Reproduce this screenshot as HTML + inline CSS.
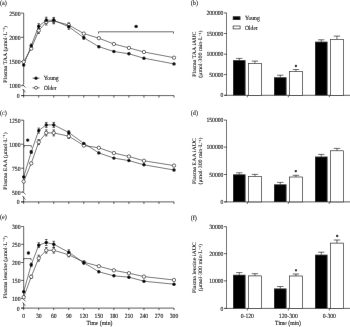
<!DOCTYPE html>
<html><head><meta charset="utf-8"><style>
html,body{margin:0;padding:0;background:#fff;width:350px;height:327px;overflow:hidden}
svg{display:block}
text{font-family:"Liberation Serif",serif;fill:#000;stroke:#000;stroke-width:0.1px;text-rendering:geometricPrecision}
</style></head><body>
<svg width="350" height="327" viewBox="0 0 350 327">
<defs><filter id="bl" filterUnits="userSpaceOnUse" x="0" y="0" width="350" height="327"><feConvolveMatrix order="3" kernelMatrix="0 1 0 1 24 1 0 1 0" divisor="28" edgeMode="duplicate"/></filter></defs>
<g filter="url(#bl)">
<rect width="350" height="327" fill="#fff"/>
<line x1="23.7" y1="13.1" x2="23.7" y2="84.6" stroke="#000" stroke-width="0.65"/>
<line x1="23.7" y1="89.3" x2="23.7" y2="95.6" stroke="#000" stroke-width="0.65"/>
<line x1="22.5" y1="84.3" x2="25.5" y2="87.6" stroke="#000" stroke-width="0.6"/>
<line x1="22.5" y1="89.0" x2="25.5" y2="92.3" stroke="#000" stroke-width="0.6"/>
<line x1="21.1" y1="13.1" x2="23.7" y2="13.1" stroke="#000" stroke-width="0.65"/>
<text x="0" y="0" text-anchor="end" font-size="6.3" transform="translate(20.50 15.50) scale(0.9 1)">2500</text>
<line x1="21.1" y1="37.3" x2="23.7" y2="37.3" stroke="#000" stroke-width="0.65"/>
<text x="0" y="0" text-anchor="end" font-size="6.3" transform="translate(20.50 39.70) scale(0.9 1)">2000</text>
<line x1="21.1" y1="61.5" x2="23.7" y2="61.5" stroke="#000" stroke-width="0.65"/>
<text x="0" y="0" text-anchor="end" font-size="6.3" transform="translate(20.50 63.90) scale(0.9 1)">1500</text>
<line x1="21.1" y1="85.7" x2="23.7" y2="85.7" stroke="#000" stroke-width="0.65"/>
<text x="0" y="0" text-anchor="end" font-size="6.3" transform="translate(20.50 88.10) scale(0.9 1)">1000</text>
<line x1="21.1" y1="95.6" x2="23.7" y2="95.6" stroke="#000" stroke-width="0.65"/>
<text x="0" y="0" text-anchor="end" font-size="6.3" transform="translate(19.50 98.00) scale(0.9 1)">0</text>
<line x1="21.1" y1="95.6" x2="174" y2="95.6" stroke="#000" stroke-width="0.65"/>
<line x1="23.7" y1="95.6" x2="23.7" y2="97.6" stroke="#000" stroke-width="0.65"/>
<line x1="38.73" y1="95.6" x2="38.73" y2="97.6" stroke="#000" stroke-width="0.65"/>
<line x1="53.76" y1="95.6" x2="53.76" y2="97.6" stroke="#000" stroke-width="0.65"/>
<line x1="68.79" y1="95.6" x2="68.79" y2="97.6" stroke="#000" stroke-width="0.65"/>
<line x1="83.82" y1="95.6" x2="83.82" y2="97.6" stroke="#000" stroke-width="0.65"/>
<line x1="98.85" y1="95.6" x2="98.85" y2="97.6" stroke="#000" stroke-width="0.65"/>
<line x1="113.88" y1="95.6" x2="113.88" y2="97.6" stroke="#000" stroke-width="0.65"/>
<line x1="128.91" y1="95.6" x2="128.91" y2="97.6" stroke="#000" stroke-width="0.65"/>
<line x1="143.94" y1="95.6" x2="143.94" y2="97.6" stroke="#000" stroke-width="0.65"/>
<line x1="158.97" y1="95.6" x2="158.97" y2="97.6" stroke="#000" stroke-width="0.65"/>
<line x1="174" y1="95.6" x2="174" y2="97.6" stroke="#000" stroke-width="0.65"/>
<text x="0" y="0" text-anchor="middle" font-size="5.9" transform="translate(6.70 54.35) scale(0.9 1) rotate(-90)">Plasma TAA (&#956;mol&#183;L<tspan dy="-1.6" font-size="3.6">&#8722;1</tspan><tspan dy="1.6">)</tspan></text>
<text x="0" y="0" text-anchor="start" font-size="6.8" transform="translate(-0.10 4.50) scale(0.9 1)">(a)</text>
<line x1="31.21" y1="44.0" x2="31.21" y2="47.6" stroke="#000" stroke-width="0.6"/>
<line x1="29.91" y1="44.0" x2="32.52" y2="44.0" stroke="#000" stroke-width="0.6"/>
<line x1="29.91" y1="47.6" x2="32.52" y2="47.6" stroke="#000" stroke-width="0.6"/>
<line x1="38.73" y1="23.7" x2="38.73" y2="28.7" stroke="#000" stroke-width="0.6"/>
<line x1="37.43" y1="23.7" x2="40.03" y2="23.7" stroke="#000" stroke-width="0.6"/>
<line x1="37.43" y1="28.7" x2="40.03" y2="28.7" stroke="#000" stroke-width="0.6"/>
<line x1="38.73" y1="27.8" x2="38.73" y2="33.4" stroke="#000" stroke-width="0.6"/>
<line x1="37.43" y1="27.8" x2="40.03" y2="27.8" stroke="#000" stroke-width="0.6"/>
<line x1="37.43" y1="33.4" x2="40.03" y2="33.4" stroke="#000" stroke-width="0.6"/>
<line x1="46.25" y1="17.2" x2="46.25" y2="23.2" stroke="#000" stroke-width="0.6"/>
<line x1="44.95" y1="17.2" x2="47.55" y2="17.2" stroke="#000" stroke-width="0.6"/>
<line x1="44.95" y1="23.2" x2="47.55" y2="23.2" stroke="#000" stroke-width="0.6"/>
<line x1="46.25" y1="19.0" x2="46.25" y2="25.0" stroke="#000" stroke-width="0.6"/>
<line x1="44.95" y1="19.0" x2="47.55" y2="19.0" stroke="#000" stroke-width="0.6"/>
<line x1="44.95" y1="25.0" x2="47.55" y2="25.0" stroke="#000" stroke-width="0.6"/>
<line x1="53.76" y1="17.4" x2="53.76" y2="23.0" stroke="#000" stroke-width="0.6"/>
<line x1="52.46" y1="17.4" x2="55.06" y2="17.4" stroke="#000" stroke-width="0.6"/>
<line x1="52.46" y1="23.0" x2="55.06" y2="23.0" stroke="#000" stroke-width="0.6"/>
<line x1="53.76" y1="18.2" x2="53.76" y2="23.8" stroke="#000" stroke-width="0.6"/>
<line x1="52.46" y1="18.2" x2="55.06" y2="18.2" stroke="#000" stroke-width="0.6"/>
<line x1="52.46" y1="23.8" x2="55.06" y2="23.8" stroke="#000" stroke-width="0.6"/>
<line x1="68.79" y1="24.3" x2="68.79" y2="29.3" stroke="#000" stroke-width="0.6"/>
<line x1="67.49" y1="24.3" x2="70.09" y2="24.3" stroke="#000" stroke-width="0.6"/>
<line x1="67.49" y1="29.3" x2="70.09" y2="29.3" stroke="#000" stroke-width="0.6"/>
<line x1="68.79" y1="22.8" x2="68.79" y2="27.2" stroke="#000" stroke-width="0.6"/>
<line x1="67.49" y1="22.8" x2="70.09" y2="22.8" stroke="#000" stroke-width="0.6"/>
<line x1="67.49" y1="27.2" x2="70.09" y2="27.2" stroke="#000" stroke-width="0.6"/>
<line x1="83.82" y1="36.2" x2="83.82" y2="39.2" stroke="#000" stroke-width="0.6"/>
<line x1="82.52" y1="36.2" x2="85.12" y2="36.2" stroke="#000" stroke-width="0.6"/>
<line x1="82.52" y1="39.2" x2="85.12" y2="39.2" stroke="#000" stroke-width="0.6"/>
<polyline points="23.7,61.8 31.21,48.6 38.73,30.6 46.25,22.0 53.76,21 68.79,25.0 83.82,33.6 98.85,38.2 113.88,44 128.91,47.9 143.94,52 174.0,57.7" fill="none" stroke="#000" stroke-width="0.55"/>
<polyline points="23.7,65 31.21,45.8 38.73,26.2 46.25,20.2 53.76,20.2 68.79,26.8 83.82,37.7 98.85,46.7 113.88,51.5 128.91,53.8 143.94,58.2 174.0,63.9" fill="none" stroke="#000" stroke-width="0.55"/>
<circle cx="23.7" cy="61.8" r="1.7" fill="#fff" stroke="#000" stroke-width="0.6"/>
<circle cx="31.21" cy="48.6" r="1.7" fill="#fff" stroke="#000" stroke-width="0.6"/>
<circle cx="38.73" cy="30.6" r="1.7" fill="#fff" stroke="#000" stroke-width="0.6"/>
<circle cx="46.25" cy="22.0" r="1.7" fill="#fff" stroke="#000" stroke-width="0.6"/>
<circle cx="53.76" cy="21" r="1.7" fill="#fff" stroke="#000" stroke-width="0.6"/>
<circle cx="68.79" cy="25.0" r="1.7" fill="#fff" stroke="#000" stroke-width="0.6"/>
<circle cx="83.82" cy="33.6" r="1.7" fill="#fff" stroke="#000" stroke-width="0.6"/>
<circle cx="98.85" cy="38.2" r="1.7" fill="#fff" stroke="#000" stroke-width="0.6"/>
<circle cx="113.88" cy="44" r="1.7" fill="#fff" stroke="#000" stroke-width="0.6"/>
<circle cx="128.91" cy="47.9" r="1.7" fill="#fff" stroke="#000" stroke-width="0.6"/>
<circle cx="143.94" cy="52" r="1.7" fill="#fff" stroke="#000" stroke-width="0.6"/>
<circle cx="174.0" cy="57.7" r="1.7" fill="#fff" stroke="#000" stroke-width="0.6"/>
<circle cx="23.7" cy="65" r="1.7" fill="#000"/>
<circle cx="31.21" cy="45.8" r="1.7" fill="#000"/>
<circle cx="38.73" cy="26.2" r="1.7" fill="#000"/>
<circle cx="46.25" cy="20.2" r="1.7" fill="#000"/>
<circle cx="53.76" cy="20.2" r="1.7" fill="#000"/>
<circle cx="68.79" cy="26.8" r="1.7" fill="#000"/>
<circle cx="83.82" cy="37.7" r="1.7" fill="#000"/>
<circle cx="98.85" cy="46.7" r="1.7" fill="#000"/>
<circle cx="113.88" cy="51.5" r="1.7" fill="#000"/>
<circle cx="128.91" cy="53.8" r="1.7" fill="#000"/>
<circle cx="143.94" cy="58.2" r="1.7" fill="#000"/>
<circle cx="174.0" cy="63.9" r="1.7" fill="#000"/>
<polyline points="98.5,33.6 98.5,31.8 173.5,31.8 173.5,33.6" fill="none" stroke="#000" stroke-width="0.6"/>
<circle cx="136.1" cy="26.4" r="1.7" fill="#000"/>
<line x1="32.5" y1="78.2" x2="39.5" y2="78.2" stroke="#000" stroke-width="0.6"/>
<circle cx="36" cy="78.2" r="1.6" fill="#000"/>
<text x="0" y="0" text-anchor="start" font-size="6.3" transform="translate(43.80 80.10) scale(0.9 1)">Young</text>
<line x1="32.5" y1="87.8" x2="39.5" y2="87.8" stroke="#000" stroke-width="0.6"/>
<circle cx="36" cy="87.8" r="1.5" fill="#fff" stroke="#000" stroke-width="0.6"/>
<text x="0" y="0" text-anchor="start" font-size="6.3" transform="translate(43.80 89.70) scale(0.9 1)">Older</text>
<line x1="23.7" y1="120.2" x2="23.7" y2="191.5" stroke="#000" stroke-width="0.65"/>
<line x1="23.7" y1="196.5" x2="23.7" y2="201.9" stroke="#000" stroke-width="0.65"/>
<line x1="22.5" y1="191.2" x2="25.5" y2="194.5" stroke="#000" stroke-width="0.6"/>
<line x1="22.5" y1="196.2" x2="25.5" y2="199.5" stroke="#000" stroke-width="0.6"/>
<line x1="21.1" y1="120.2" x2="23.7" y2="120.2" stroke="#000" stroke-width="0.65"/>
<text x="0" y="0" text-anchor="end" font-size="6.3" transform="translate(20.50 122.60) scale(0.9 1)">1250</text>
<line x1="21.1" y1="144.2" x2="23.7" y2="144.2" stroke="#000" stroke-width="0.65"/>
<text x="0" y="0" text-anchor="end" font-size="6.3" transform="translate(20.50 146.60) scale(0.9 1)">1000</text>
<line x1="21.1" y1="168.2" x2="23.7" y2="168.2" stroke="#000" stroke-width="0.65"/>
<text x="0" y="0" text-anchor="end" font-size="6.3" transform="translate(20.50 170.60) scale(0.9 1)">750</text>
<line x1="21.1" y1="192.2" x2="23.7" y2="192.2" stroke="#000" stroke-width="0.65"/>
<text x="0" y="0" text-anchor="end" font-size="6.3" transform="translate(20.50 194.60) scale(0.9 1)">500</text>
<line x1="21.1" y1="201.9" x2="23.7" y2="201.9" stroke="#000" stroke-width="0.65"/>
<text x="0" y="0" text-anchor="end" font-size="6.3" transform="translate(19.50 204.30) scale(0.9 1)">0</text>
<line x1="21.1" y1="201.9" x2="174" y2="201.9" stroke="#000" stroke-width="0.65"/>
<line x1="23.7" y1="201.9" x2="23.7" y2="203.9" stroke="#000" stroke-width="0.65"/>
<line x1="38.73" y1="201.9" x2="38.73" y2="203.9" stroke="#000" stroke-width="0.65"/>
<line x1="53.76" y1="201.9" x2="53.76" y2="203.9" stroke="#000" stroke-width="0.65"/>
<line x1="68.79" y1="201.9" x2="68.79" y2="203.9" stroke="#000" stroke-width="0.65"/>
<line x1="83.82" y1="201.9" x2="83.82" y2="203.9" stroke="#000" stroke-width="0.65"/>
<line x1="98.85" y1="201.9" x2="98.85" y2="203.9" stroke="#000" stroke-width="0.65"/>
<line x1="113.88" y1="201.9" x2="113.88" y2="203.9" stroke="#000" stroke-width="0.65"/>
<line x1="128.91" y1="201.9" x2="128.91" y2="203.9" stroke="#000" stroke-width="0.65"/>
<line x1="143.94" y1="201.9" x2="143.94" y2="203.9" stroke="#000" stroke-width="0.65"/>
<line x1="158.97" y1="201.9" x2="158.97" y2="203.9" stroke="#000" stroke-width="0.65"/>
<line x1="174" y1="201.9" x2="174" y2="203.9" stroke="#000" stroke-width="0.65"/>
<text x="0" y="0" text-anchor="middle" font-size="5.9" transform="translate(6.70 161.05) scale(0.9 1) rotate(-90)">Plasma EAA (&#956;mol&#183;L<tspan dy="-1.6" font-size="3.6">&#8722;1</tspan><tspan dy="1.6">)</tspan></text>
<text x="0" y="0" text-anchor="start" font-size="6.8" transform="translate(-0.10 114.90) scale(0.9 1)">(c)</text>
<line x1="31.21" y1="150.5" x2="31.21" y2="153.5" stroke="#000" stroke-width="0.6"/>
<line x1="29.91" y1="150.5" x2="32.52" y2="150.5" stroke="#000" stroke-width="0.6"/>
<line x1="29.91" y1="153.5" x2="32.52" y2="153.5" stroke="#000" stroke-width="0.6"/>
<line x1="38.73" y1="128.1" x2="38.73" y2="133.1" stroke="#000" stroke-width="0.6"/>
<line x1="37.43" y1="128.1" x2="40.03" y2="128.1" stroke="#000" stroke-width="0.6"/>
<line x1="37.43" y1="133.1" x2="40.03" y2="133.1" stroke="#000" stroke-width="0.6"/>
<line x1="38.73" y1="139.6" x2="38.73" y2="144.6" stroke="#000" stroke-width="0.6"/>
<line x1="37.43" y1="139.6" x2="40.03" y2="139.6" stroke="#000" stroke-width="0.6"/>
<line x1="37.43" y1="144.6" x2="40.03" y2="144.6" stroke="#000" stroke-width="0.6"/>
<line x1="46.25" y1="122.4" x2="46.25" y2="127.4" stroke="#000" stroke-width="0.6"/>
<line x1="44.95" y1="122.4" x2="47.55" y2="122.4" stroke="#000" stroke-width="0.6"/>
<line x1="44.95" y1="127.4" x2="47.55" y2="127.4" stroke="#000" stroke-width="0.6"/>
<line x1="46.25" y1="129.9" x2="46.25" y2="135.9" stroke="#000" stroke-width="0.6"/>
<line x1="44.95" y1="129.9" x2="47.55" y2="129.9" stroke="#000" stroke-width="0.6"/>
<line x1="44.95" y1="135.9" x2="47.55" y2="135.9" stroke="#000" stroke-width="0.6"/>
<line x1="53.76" y1="122.4" x2="53.76" y2="127.4" stroke="#000" stroke-width="0.6"/>
<line x1="52.46" y1="122.4" x2="55.06" y2="122.4" stroke="#000" stroke-width="0.6"/>
<line x1="52.46" y1="127.4" x2="55.06" y2="127.4" stroke="#000" stroke-width="0.6"/>
<line x1="53.76" y1="129.9" x2="53.76" y2="135.9" stroke="#000" stroke-width="0.6"/>
<line x1="52.46" y1="129.9" x2="55.06" y2="129.9" stroke="#000" stroke-width="0.6"/>
<line x1="52.46" y1="135.9" x2="55.06" y2="135.9" stroke="#000" stroke-width="0.6"/>
<line x1="68.79" y1="130.7" x2="68.79" y2="134.3" stroke="#000" stroke-width="0.6"/>
<line x1="67.49" y1="130.7" x2="70.09" y2="130.7" stroke="#000" stroke-width="0.6"/>
<line x1="67.49" y1="134.3" x2="70.09" y2="134.3" stroke="#000" stroke-width="0.6"/>
<line x1="68.79" y1="133.9" x2="68.79" y2="138.5" stroke="#000" stroke-width="0.6"/>
<line x1="67.49" y1="133.9" x2="70.09" y2="133.9" stroke="#000" stroke-width="0.6"/>
<line x1="67.49" y1="138.5" x2="70.09" y2="138.5" stroke="#000" stroke-width="0.6"/>
<polyline points="23.7,181.5 31.21,163.4 38.73,142.1 46.25,132.9 53.76,132.9 68.79,136.2 83.82,145.5 98.85,147.8 113.88,153.0 128.91,156.5 143.94,160.8 174.0,165.6" fill="none" stroke="#000" stroke-width="0.55"/>
<polyline points="23.7,176.9 31.21,152 38.73,130.6 46.25,124.9 53.76,124.9 68.79,132.5 83.82,143.4 98.85,152.9 113.88,158.1 128.91,160.6 143.94,164.8 174.0,170.0" fill="none" stroke="#000" stroke-width="0.55"/>
<circle cx="23.7" cy="181.5" r="1.7" fill="#fff" stroke="#000" stroke-width="0.6"/>
<circle cx="31.21" cy="163.4" r="1.7" fill="#fff" stroke="#000" stroke-width="0.6"/>
<circle cx="38.73" cy="142.1" r="1.7" fill="#fff" stroke="#000" stroke-width="0.6"/>
<circle cx="46.25" cy="132.9" r="1.7" fill="#fff" stroke="#000" stroke-width="0.6"/>
<circle cx="53.76" cy="132.9" r="1.7" fill="#fff" stroke="#000" stroke-width="0.6"/>
<circle cx="68.79" cy="136.2" r="1.7" fill="#fff" stroke="#000" stroke-width="0.6"/>
<circle cx="83.82" cy="145.5" r="1.7" fill="#fff" stroke="#000" stroke-width="0.6"/>
<circle cx="98.85" cy="147.8" r="1.7" fill="#fff" stroke="#000" stroke-width="0.6"/>
<circle cx="113.88" cy="153.0" r="1.7" fill="#fff" stroke="#000" stroke-width="0.6"/>
<circle cx="128.91" cy="156.5" r="1.7" fill="#fff" stroke="#000" stroke-width="0.6"/>
<circle cx="143.94" cy="160.8" r="1.7" fill="#fff" stroke="#000" stroke-width="0.6"/>
<circle cx="174.0" cy="165.6" r="1.7" fill="#fff" stroke="#000" stroke-width="0.6"/>
<circle cx="23.7" cy="176.9" r="1.7" fill="#000"/>
<circle cx="31.21" cy="152" r="1.7" fill="#000"/>
<circle cx="38.73" cy="130.6" r="1.7" fill="#000"/>
<circle cx="46.25" cy="124.9" r="1.7" fill="#000"/>
<circle cx="53.76" cy="124.9" r="1.7" fill="#000"/>
<circle cx="68.79" cy="132.5" r="1.7" fill="#000"/>
<circle cx="83.82" cy="143.4" r="1.7" fill="#000"/>
<circle cx="98.85" cy="152.9" r="1.7" fill="#000"/>
<circle cx="113.88" cy="158.1" r="1.7" fill="#000"/>
<circle cx="128.91" cy="160.6" r="1.7" fill="#000"/>
<circle cx="143.94" cy="164.8" r="1.7" fill="#000"/>
<circle cx="174.0" cy="170.0" r="1.7" fill="#000"/>
<polyline points="24,147.4 24,145.6 31.3,145.6 31.3,147.4" fill="none" stroke="#000" stroke-width="0.6"/>
<circle cx="27.7" cy="140.1" r="1.7" fill="#000"/>
<line x1="23.7" y1="226.5" x2="23.7" y2="298.3" stroke="#000" stroke-width="0.65"/>
<line x1="23.7" y1="302.8" x2="23.7" y2="308.1" stroke="#000" stroke-width="0.65"/>
<line x1="22.5" y1="298.0" x2="25.5" y2="301.3" stroke="#000" stroke-width="0.6"/>
<line x1="22.5" y1="302.5" x2="25.5" y2="305.8" stroke="#000" stroke-width="0.6"/>
<line x1="21.1" y1="226.5" x2="23.7" y2="226.5" stroke="#000" stroke-width="0.65"/>
<text x="0" y="0" text-anchor="end" font-size="6.3" transform="translate(20.50 228.90) scale(0.9 1)">300</text>
<line x1="21.1" y1="244.3" x2="23.7" y2="244.3" stroke="#000" stroke-width="0.65"/>
<text x="0" y="0" text-anchor="end" font-size="6.3" transform="translate(20.50 246.70) scale(0.9 1)">250</text>
<line x1="21.1" y1="262.5" x2="23.7" y2="262.5" stroke="#000" stroke-width="0.65"/>
<text x="0" y="0" text-anchor="end" font-size="6.3" transform="translate(20.50 264.90) scale(0.9 1)">200</text>
<line x1="21.1" y1="280.4" x2="23.7" y2="280.4" stroke="#000" stroke-width="0.65"/>
<text x="0" y="0" text-anchor="end" font-size="6.3" transform="translate(20.50 282.80) scale(0.9 1)">150</text>
<line x1="21.1" y1="298.6" x2="23.7" y2="298.6" stroke="#000" stroke-width="0.65"/>
<text x="0" y="0" text-anchor="end" font-size="6.3" transform="translate(20.50 301.00) scale(0.9 1)">100</text>
<line x1="21.1" y1="308.1" x2="23.7" y2="308.1" stroke="#000" stroke-width="0.65"/>
<text x="0" y="0" text-anchor="end" font-size="6.3" transform="translate(19.50 310.50) scale(0.9 1)">0</text>
<line x1="21.1" y1="308.1" x2="174" y2="308.1" stroke="#000" stroke-width="0.65"/>
<line x1="23.7" y1="308.1" x2="23.7" y2="310.1" stroke="#000" stroke-width="0.65"/>
<text x="0" y="0" text-anchor="middle" font-size="6.3" transform="translate(23.70 317.50) scale(0.9 1)">0</text>
<line x1="38.73" y1="308.1" x2="38.73" y2="310.1" stroke="#000" stroke-width="0.65"/>
<text x="0" y="0" text-anchor="middle" font-size="6.3" transform="translate(38.73 317.50) scale(0.9 1)">30</text>
<line x1="53.76" y1="308.1" x2="53.76" y2="310.1" stroke="#000" stroke-width="0.65"/>
<text x="0" y="0" text-anchor="middle" font-size="6.3" transform="translate(53.76 317.50) scale(0.9 1)">60</text>
<line x1="68.79" y1="308.1" x2="68.79" y2="310.1" stroke="#000" stroke-width="0.65"/>
<text x="0" y="0" text-anchor="middle" font-size="6.3" transform="translate(68.79 317.50) scale(0.9 1)">90</text>
<line x1="83.82" y1="308.1" x2="83.82" y2="310.1" stroke="#000" stroke-width="0.65"/>
<text x="0" y="0" text-anchor="middle" font-size="6.3" transform="translate(83.82 317.50) scale(0.9 1)">120</text>
<line x1="98.85" y1="308.1" x2="98.85" y2="310.1" stroke="#000" stroke-width="0.65"/>
<text x="0" y="0" text-anchor="middle" font-size="6.3" transform="translate(98.85 317.50) scale(0.9 1)">150</text>
<line x1="113.88" y1="308.1" x2="113.88" y2="310.1" stroke="#000" stroke-width="0.65"/>
<text x="0" y="0" text-anchor="middle" font-size="6.3" transform="translate(113.88 317.50) scale(0.9 1)">180</text>
<line x1="128.91" y1="308.1" x2="128.91" y2="310.1" stroke="#000" stroke-width="0.65"/>
<text x="0" y="0" text-anchor="middle" font-size="6.3" transform="translate(128.91 317.50) scale(0.9 1)">210</text>
<line x1="143.94" y1="308.1" x2="143.94" y2="310.1" stroke="#000" stroke-width="0.65"/>
<text x="0" y="0" text-anchor="middle" font-size="6.3" transform="translate(143.94 317.50) scale(0.9 1)">240</text>
<line x1="158.97" y1="308.1" x2="158.97" y2="310.1" stroke="#000" stroke-width="0.65"/>
<text x="0" y="0" text-anchor="middle" font-size="6.3" transform="translate(158.97 317.50) scale(0.9 1)">270</text>
<line x1="174" y1="308.1" x2="174" y2="310.1" stroke="#000" stroke-width="0.65"/>
<text x="0" y="0" text-anchor="middle" font-size="6.3" transform="translate(174.00 317.50) scale(0.9 1)">300</text>
<text x="0" y="0" text-anchor="middle" font-size="5.9" transform="translate(6.70 267.30) scale(0.9 1) rotate(-90)">Plasma leucine (&#956;mol&#183;L<tspan dy="-1.6" font-size="3.6">&#8722;1</tspan><tspan dy="1.6">)</tspan></text>
<text x="0" y="0" text-anchor="start" font-size="6.8" transform="translate(-0.10 219.40) scale(0.9 1)">(e)</text>
<line x1="31.21" y1="263.0" x2="31.21" y2="266.6" stroke="#000" stroke-width="0.6"/>
<line x1="29.91" y1="263.0" x2="32.52" y2="263.0" stroke="#000" stroke-width="0.6"/>
<line x1="29.91" y1="266.6" x2="32.52" y2="266.6" stroke="#000" stroke-width="0.6"/>
<line x1="31.21" y1="275.3" x2="31.21" y2="278.3" stroke="#000" stroke-width="0.6"/>
<line x1="29.91" y1="275.3" x2="32.52" y2="275.3" stroke="#000" stroke-width="0.6"/>
<line x1="29.91" y1="278.3" x2="32.52" y2="278.3" stroke="#000" stroke-width="0.6"/>
<line x1="38.73" y1="242.8" x2="38.73" y2="247.6" stroke="#000" stroke-width="0.6"/>
<line x1="37.43" y1="242.8" x2="40.03" y2="242.8" stroke="#000" stroke-width="0.6"/>
<line x1="37.43" y1="247.6" x2="40.03" y2="247.6" stroke="#000" stroke-width="0.6"/>
<line x1="38.73" y1="255.2" x2="38.73" y2="261.2" stroke="#000" stroke-width="0.6"/>
<line x1="37.43" y1="255.2" x2="40.03" y2="255.2" stroke="#000" stroke-width="0.6"/>
<line x1="37.43" y1="261.2" x2="40.03" y2="261.2" stroke="#000" stroke-width="0.6"/>
<line x1="46.25" y1="239.5" x2="46.25" y2="245.5" stroke="#000" stroke-width="0.6"/>
<line x1="44.95" y1="239.5" x2="47.55" y2="239.5" stroke="#000" stroke-width="0.6"/>
<line x1="44.95" y1="245.5" x2="47.55" y2="245.5" stroke="#000" stroke-width="0.6"/>
<line x1="46.25" y1="247.5" x2="46.25" y2="253.1" stroke="#000" stroke-width="0.6"/>
<line x1="44.95" y1="247.5" x2="47.55" y2="247.5" stroke="#000" stroke-width="0.6"/>
<line x1="44.95" y1="253.1" x2="47.55" y2="253.1" stroke="#000" stroke-width="0.6"/>
<line x1="53.76" y1="241.3" x2="53.76" y2="247.3" stroke="#000" stroke-width="0.6"/>
<line x1="52.46" y1="241.3" x2="55.06" y2="241.3" stroke="#000" stroke-width="0.6"/>
<line x1="52.46" y1="247.3" x2="55.06" y2="247.3" stroke="#000" stroke-width="0.6"/>
<line x1="53.76" y1="247.5" x2="53.76" y2="253.1" stroke="#000" stroke-width="0.6"/>
<line x1="52.46" y1="247.5" x2="55.06" y2="247.5" stroke="#000" stroke-width="0.6"/>
<line x1="52.46" y1="253.1" x2="55.06" y2="253.1" stroke="#000" stroke-width="0.6"/>
<line x1="68.79" y1="249.8" x2="68.79" y2="254.8" stroke="#000" stroke-width="0.6"/>
<line x1="67.49" y1="249.8" x2="70.09" y2="249.8" stroke="#000" stroke-width="0.6"/>
<line x1="67.49" y1="254.8" x2="70.09" y2="254.8" stroke="#000" stroke-width="0.6"/>
<line x1="68.79" y1="252.8" x2="68.79" y2="256.8" stroke="#000" stroke-width="0.6"/>
<line x1="67.49" y1="252.8" x2="70.09" y2="252.8" stroke="#000" stroke-width="0.6"/>
<line x1="67.49" y1="256.8" x2="70.09" y2="256.8" stroke="#000" stroke-width="0.6"/>
<line x1="83.82" y1="261.2" x2="83.82" y2="264.2" stroke="#000" stroke-width="0.6"/>
<line x1="82.52" y1="261.2" x2="85.12" y2="261.2" stroke="#000" stroke-width="0.6"/>
<line x1="82.52" y1="264.2" x2="85.12" y2="264.2" stroke="#000" stroke-width="0.6"/>
<polyline points="23.7,297.2 31.21,276.8 38.73,258.2 46.25,250.3 53.76,250.3 68.79,254.8 83.82,262.2 98.85,266.2 113.88,270.3 128.91,273.2 143.94,276.6 174.0,280.0" fill="none" stroke="#000" stroke-width="0.55"/>
<polyline points="23.7,291.7 31.21,264.8 38.73,245.2 46.25,242.5 53.76,244.3 68.79,252.3 83.82,262.7 98.85,271.8 113.88,275.8 128.91,277.2 143.94,281.2 174.0,284.2" fill="none" stroke="#000" stroke-width="0.55"/>
<circle cx="23.7" cy="297.2" r="1.7" fill="#fff" stroke="#000" stroke-width="0.6"/>
<circle cx="31.21" cy="276.8" r="1.7" fill="#fff" stroke="#000" stroke-width="0.6"/>
<circle cx="38.73" cy="258.2" r="1.7" fill="#fff" stroke="#000" stroke-width="0.6"/>
<circle cx="46.25" cy="250.3" r="1.7" fill="#fff" stroke="#000" stroke-width="0.6"/>
<circle cx="53.76" cy="250.3" r="1.7" fill="#fff" stroke="#000" stroke-width="0.6"/>
<circle cx="68.79" cy="254.8" r="1.7" fill="#fff" stroke="#000" stroke-width="0.6"/>
<circle cx="83.82" cy="262.2" r="1.7" fill="#fff" stroke="#000" stroke-width="0.6"/>
<circle cx="98.85" cy="266.2" r="1.7" fill="#fff" stroke="#000" stroke-width="0.6"/>
<circle cx="113.88" cy="270.3" r="1.7" fill="#fff" stroke="#000" stroke-width="0.6"/>
<circle cx="128.91" cy="273.2" r="1.7" fill="#fff" stroke="#000" stroke-width="0.6"/>
<circle cx="143.94" cy="276.6" r="1.7" fill="#fff" stroke="#000" stroke-width="0.6"/>
<circle cx="174.0" cy="280.0" r="1.7" fill="#fff" stroke="#000" stroke-width="0.6"/>
<circle cx="23.7" cy="291.7" r="1.7" fill="#000"/>
<circle cx="31.21" cy="264.8" r="1.7" fill="#000"/>
<circle cx="38.73" cy="245.2" r="1.7" fill="#000"/>
<circle cx="46.25" cy="242.5" r="1.7" fill="#000"/>
<circle cx="53.76" cy="244.3" r="1.7" fill="#000"/>
<circle cx="68.79" cy="252.3" r="1.7" fill="#000"/>
<circle cx="83.82" cy="262.7" r="1.7" fill="#000"/>
<circle cx="98.85" cy="271.8" r="1.7" fill="#000"/>
<circle cx="113.88" cy="275.8" r="1.7" fill="#000"/>
<circle cx="128.91" cy="277.2" r="1.7" fill="#000"/>
<circle cx="143.94" cy="281.2" r="1.7" fill="#000"/>
<circle cx="174.0" cy="284.2" r="1.7" fill="#000"/>
<polyline points="23.7,260.4 23.7,258.6 31.1,258.6 31.1,260.4" fill="none" stroke="#000" stroke-width="0.6"/>
<circle cx="28.4" cy="253.0" r="1.7" fill="#000"/>
<line x1="226.6" y1="12.9" x2="226.6" y2="95.3" stroke="#000" stroke-width="0.65"/>
<line x1="224.0" y1="12.9" x2="226.6" y2="12.9" stroke="#000" stroke-width="0.65"/>
<text x="0" y="0" text-anchor="end" font-size="6.3" transform="translate(223.40 15.00) scale(0.9 1)">200000</text>
<line x1="224.0" y1="33.5" x2="226.6" y2="33.5" stroke="#000" stroke-width="0.65"/>
<text x="0" y="0" text-anchor="end" font-size="6.3" transform="translate(223.40 35.60) scale(0.9 1)">150000</text>
<line x1="224.0" y1="54.2" x2="226.6" y2="54.2" stroke="#000" stroke-width="0.65"/>
<text x="0" y="0" text-anchor="end" font-size="6.3" transform="translate(223.40 56.30) scale(0.9 1)">100000</text>
<line x1="224.0" y1="74.6" x2="226.6" y2="74.6" stroke="#000" stroke-width="0.65"/>
<text x="0" y="0" text-anchor="end" font-size="6.3" transform="translate(223.40 76.70) scale(0.9 1)">50000</text>
<line x1="224.0" y1="95.3" x2="226.6" y2="95.3" stroke="#000" stroke-width="0.65"/>
<text x="0" y="0" text-anchor="end" font-size="6.3" transform="translate(223.40 97.40) scale(0.9 1)">0</text>
<line x1="224.6" y1="95.3" x2="350" y2="95.3" stroke="#000" stroke-width="0.65"/>
<line x1="247.3" y1="95.3" x2="247.3" y2="97.3" stroke="#000" stroke-width="0.65"/>
<line x1="288.3" y1="95.3" x2="288.3" y2="97.3" stroke="#000" stroke-width="0.65"/>
<line x1="329.3" y1="95.3" x2="329.3" y2="97.3" stroke="#000" stroke-width="0.65"/>
<line x1="239.25" y1="58.4" x2="239.25" y2="60.2" stroke="#000" stroke-width="0.6"/>
<line x1="236.05" y1="58.4" x2="242.45" y2="58.4" stroke="#000" stroke-width="0.6"/>
<rect x="233.0" y="60.2" width="12.5" height="35.1" fill="#000"/>
<line x1="254.95" y1="61.1" x2="254.95" y2="63.4" stroke="#000" stroke-width="0.6"/>
<line x1="251.75" y1="61.1" x2="258.15" y2="61.1" stroke="#000" stroke-width="0.6"/>
<rect x="248.55" y="63.4" width="12.8" height="31.9" fill="#fff" stroke="#000" stroke-width="0.6"/>
<line x1="280.25" y1="75.2" x2="280.25" y2="77.3" stroke="#000" stroke-width="0.6"/>
<line x1="277.05" y1="75.2" x2="283.45" y2="75.2" stroke="#000" stroke-width="0.6"/>
<rect x="274.0" y="77.3" width="12.5" height="18.0" fill="#000"/>
<line x1="295.95" y1="69.5" x2="295.95" y2="71.6" stroke="#000" stroke-width="0.6"/>
<line x1="292.75" y1="69.5" x2="299.15" y2="69.5" stroke="#000" stroke-width="0.6"/>
<rect x="289.55" y="71.6" width="12.8" height="23.7" fill="#fff" stroke="#000" stroke-width="0.6"/>
<line x1="321.25" y1="39.8" x2="321.25" y2="41.7" stroke="#000" stroke-width="0.6"/>
<line x1="318.05" y1="39.8" x2="324.45" y2="39.8" stroke="#000" stroke-width="0.6"/>
<rect x="315.0" y="41.7" width="12.5" height="53.6" fill="#000"/>
<line x1="336.95" y1="36.1" x2="336.95" y2="39.3" stroke="#000" stroke-width="0.6"/>
<line x1="333.75" y1="36.1" x2="340.15" y2="36.1" stroke="#000" stroke-width="0.6"/>
<rect x="330.55" y="39.3" width="12.8" height="56.0" fill="#fff" stroke="#000" stroke-width="0.6"/>
<circle cx="295.9" cy="66.0" r="1.15" fill="#000"/>
<text x="0" y="0" text-anchor="middle" font-size="5.9" transform="translate(195.50 54.10) scale(0.9 1) rotate(-90)">Plasma TAA iAUC</text>
<text x="0" y="0" text-anchor="middle" font-size="5.9" transform="translate(202.30 54.10) scale(0.9 1) rotate(-90)">(&#956;mol&#183;300 min&#183;L<tspan dy="-1.6" font-size="3.6">&#8722;1</tspan><tspan dy="1.6">)</tspan></text>
<text x="0" y="0" text-anchor="start" font-size="6.8" transform="translate(190.80 4.60) scale(0.9 1)">(b)</text>
<rect x="232.8" y="16.3" width="7.6" height="3.7" fill="#000"/>
<rect x="233.1" y="26.0" width="7.0" height="2.9" fill="#fff" stroke="#000" stroke-width="0.6"/>
<text x="0" y="0" text-anchor="start" font-size="6.3" transform="translate(244.90 19.90) scale(0.9 1)">Young</text>
<text x="0" y="0" text-anchor="start" font-size="6.3" transform="translate(244.90 29.50) scale(0.9 1)">Older</text>
<line x1="226.6" y1="120.1" x2="226.6" y2="201.9" stroke="#000" stroke-width="0.65"/>
<line x1="224.0" y1="120.1" x2="226.6" y2="120.1" stroke="#000" stroke-width="0.65"/>
<text x="0" y="0" text-anchor="end" font-size="6.3" transform="translate(223.40 122.20) scale(0.9 1)">150000</text>
<line x1="224.0" y1="147.1" x2="226.6" y2="147.1" stroke="#000" stroke-width="0.65"/>
<text x="0" y="0" text-anchor="end" font-size="6.3" transform="translate(223.40 149.20) scale(0.9 1)">100000</text>
<line x1="224.0" y1="174.5" x2="226.6" y2="174.5" stroke="#000" stroke-width="0.65"/>
<text x="0" y="0" text-anchor="end" font-size="6.3" transform="translate(223.40 176.60) scale(0.9 1)">50000</text>
<line x1="224.0" y1="201.9" x2="226.6" y2="201.9" stroke="#000" stroke-width="0.65"/>
<text x="0" y="0" text-anchor="end" font-size="6.3" transform="translate(223.40 204.00) scale(0.9 1)">0</text>
<line x1="224.6" y1="201.9" x2="350" y2="201.9" stroke="#000" stroke-width="0.65"/>
<line x1="247.3" y1="201.9" x2="247.3" y2="203.9" stroke="#000" stroke-width="0.65"/>
<line x1="288.3" y1="201.9" x2="288.3" y2="203.9" stroke="#000" stroke-width="0.65"/>
<line x1="329.3" y1="201.9" x2="329.3" y2="203.9" stroke="#000" stroke-width="0.65"/>
<line x1="239.25" y1="172.8" x2="239.25" y2="174.4" stroke="#000" stroke-width="0.6"/>
<line x1="236.05" y1="172.8" x2="242.45" y2="172.8" stroke="#000" stroke-width="0.6"/>
<rect x="233.0" y="174.4" width="12.5" height="27.5" fill="#000"/>
<line x1="254.95" y1="174.4" x2="254.95" y2="176.5" stroke="#000" stroke-width="0.6"/>
<line x1="251.75" y1="174.4" x2="258.15" y2="174.4" stroke="#000" stroke-width="0.6"/>
<rect x="248.55" y="176.5" width="12.8" height="25.4" fill="#fff" stroke="#000" stroke-width="0.6"/>
<line x1="280.25" y1="182.4" x2="280.25" y2="184.4" stroke="#000" stroke-width="0.6"/>
<line x1="277.05" y1="182.4" x2="283.45" y2="182.4" stroke="#000" stroke-width="0.6"/>
<rect x="274.0" y="184.4" width="12.5" height="17.5" fill="#000"/>
<line x1="295.95" y1="175.3" x2="295.95" y2="177.0" stroke="#000" stroke-width="0.6"/>
<line x1="292.75" y1="175.3" x2="299.15" y2="175.3" stroke="#000" stroke-width="0.6"/>
<rect x="289.55" y="177.0" width="12.8" height="24.9" fill="#fff" stroke="#000" stroke-width="0.6"/>
<line x1="321.25" y1="154.4" x2="321.25" y2="156.6" stroke="#000" stroke-width="0.6"/>
<line x1="318.05" y1="154.4" x2="324.45" y2="154.4" stroke="#000" stroke-width="0.6"/>
<rect x="315.0" y="156.6" width="12.5" height="45.3" fill="#000"/>
<line x1="336.95" y1="148.4" x2="336.95" y2="150.8" stroke="#000" stroke-width="0.6"/>
<line x1="333.75" y1="148.4" x2="340.15" y2="148.4" stroke="#000" stroke-width="0.6"/>
<rect x="330.55" y="150.8" width="12.8" height="51.1" fill="#fff" stroke="#000" stroke-width="0.6"/>
<circle cx="295.8" cy="171.2" r="1.15" fill="#000"/>
<text x="0" y="0" text-anchor="middle" font-size="5.9" transform="translate(195.50 161.00) scale(0.9 1) rotate(-90)">Plasma EAA iAUC</text>
<text x="0" y="0" text-anchor="middle" font-size="5.9" transform="translate(202.30 161.00) scale(0.9 1) rotate(-90)">(&#956;mol&#183;300 min&#183;L<tspan dy="-1.6" font-size="3.6">&#8722;1</tspan><tspan dy="1.6">)</tspan></text>
<text x="0" y="0" text-anchor="start" font-size="6.8" transform="translate(190.80 114.90) scale(0.9 1)">(d)</text>
<line x1="226.6" y1="226.7" x2="226.6" y2="308.4" stroke="#000" stroke-width="0.65"/>
<line x1="224.0" y1="226.7" x2="226.6" y2="226.7" stroke="#000" stroke-width="0.65"/>
<text x="0" y="0" text-anchor="end" font-size="6.3" transform="translate(223.40 228.80) scale(0.9 1)">30000</text>
<line x1="224.0" y1="253.7" x2="226.6" y2="253.7" stroke="#000" stroke-width="0.65"/>
<text x="0" y="0" text-anchor="end" font-size="6.3" transform="translate(223.40 255.80) scale(0.9 1)">20000</text>
<line x1="224.0" y1="280.9" x2="226.6" y2="280.9" stroke="#000" stroke-width="0.65"/>
<text x="0" y="0" text-anchor="end" font-size="6.3" transform="translate(223.40 283.00) scale(0.9 1)">10000</text>
<line x1="224.0" y1="308.4" x2="226.6" y2="308.4" stroke="#000" stroke-width="0.65"/>
<text x="0" y="0" text-anchor="end" font-size="6.3" transform="translate(223.40 310.50) scale(0.9 1)">0</text>
<line x1="224.6" y1="308.4" x2="350" y2="308.4" stroke="#000" stroke-width="0.65"/>
<line x1="247.3" y1="308.4" x2="247.3" y2="310.4" stroke="#000" stroke-width="0.65"/>
<text x="0" y="0" text-anchor="middle" font-size="6.3" transform="translate(247.30 317.80) scale(0.9 1)">0-120</text>
<line x1="288.3" y1="308.4" x2="288.3" y2="310.4" stroke="#000" stroke-width="0.65"/>
<text x="0" y="0" text-anchor="middle" font-size="6.3" transform="translate(288.30 317.80) scale(0.9 1)">120-300</text>
<line x1="329.3" y1="308.4" x2="329.3" y2="310.4" stroke="#000" stroke-width="0.65"/>
<text x="0" y="0" text-anchor="middle" font-size="6.3" transform="translate(329.30 317.80) scale(0.9 1)">0-300</text>
<line x1="239.25" y1="272.6" x2="239.25" y2="274.8" stroke="#000" stroke-width="0.6"/>
<line x1="236.05" y1="272.6" x2="242.45" y2="272.6" stroke="#000" stroke-width="0.6"/>
<rect x="233.0" y="274.8" width="12.5" height="33.6" fill="#000"/>
<line x1="254.95" y1="273.7" x2="254.95" y2="275.9" stroke="#000" stroke-width="0.6"/>
<line x1="251.75" y1="273.7" x2="258.15" y2="273.7" stroke="#000" stroke-width="0.6"/>
<rect x="248.55" y="275.9" width="12.8" height="32.5" fill="#fff" stroke="#000" stroke-width="0.6"/>
<line x1="280.25" y1="286.5" x2="280.25" y2="288.5" stroke="#000" stroke-width="0.6"/>
<line x1="277.05" y1="286.5" x2="283.45" y2="286.5" stroke="#000" stroke-width="0.6"/>
<rect x="274.0" y="288.5" width="12.5" height="19.9" fill="#000"/>
<line x1="295.95" y1="274" x2="295.95" y2="276" stroke="#000" stroke-width="0.6"/>
<line x1="292.75" y1="274" x2="299.15" y2="274" stroke="#000" stroke-width="0.6"/>
<rect x="289.55" y="276" width="12.8" height="32.4" fill="#fff" stroke="#000" stroke-width="0.6"/>
<line x1="321.25" y1="252.2" x2="321.25" y2="254.7" stroke="#000" stroke-width="0.6"/>
<line x1="318.05" y1="252.2" x2="324.45" y2="252.2" stroke="#000" stroke-width="0.6"/>
<rect x="315.0" y="254.7" width="12.5" height="53.7" fill="#000"/>
<line x1="336.95" y1="240" x2="336.95" y2="243.1" stroke="#000" stroke-width="0.6"/>
<line x1="333.75" y1="240" x2="340.15" y2="240" stroke="#000" stroke-width="0.6"/>
<rect x="330.55" y="243.1" width="12.8" height="65.3" fill="#fff" stroke="#000" stroke-width="0.6"/>
<circle cx="296" cy="270.3" r="1.15" fill="#000"/>
<circle cx="337.2" cy="236" r="1.15" fill="#000"/>
<text x="0" y="0" text-anchor="middle" font-size="5.9" transform="translate(195.50 267.55) scale(0.9 1) rotate(-90)">Plasma leucine iAUC</text>
<text x="0" y="0" text-anchor="middle" font-size="5.9" transform="translate(202.30 267.55) scale(0.9 1) rotate(-90)">(&#956;mol&#183;300 min&#183;L<tspan dy="-1.6" font-size="3.6">&#8722;1</tspan><tspan dy="1.6">)</tspan></text>
<text x="0" y="0" text-anchor="start" font-size="6.8" transform="translate(190.80 220.00) scale(0.9 1)">(f)</text>
<text x="0" y="0" text-anchor="middle" font-size="6.3" transform="translate(99.50 324.80) scale(0.9 1)">Time (min)</text>
<text x="0" y="0" text-anchor="middle" font-size="6.3" transform="translate(288.00 324.80) scale(0.9 1)">Time (min)</text>
</g>
</svg>
</body></html>
